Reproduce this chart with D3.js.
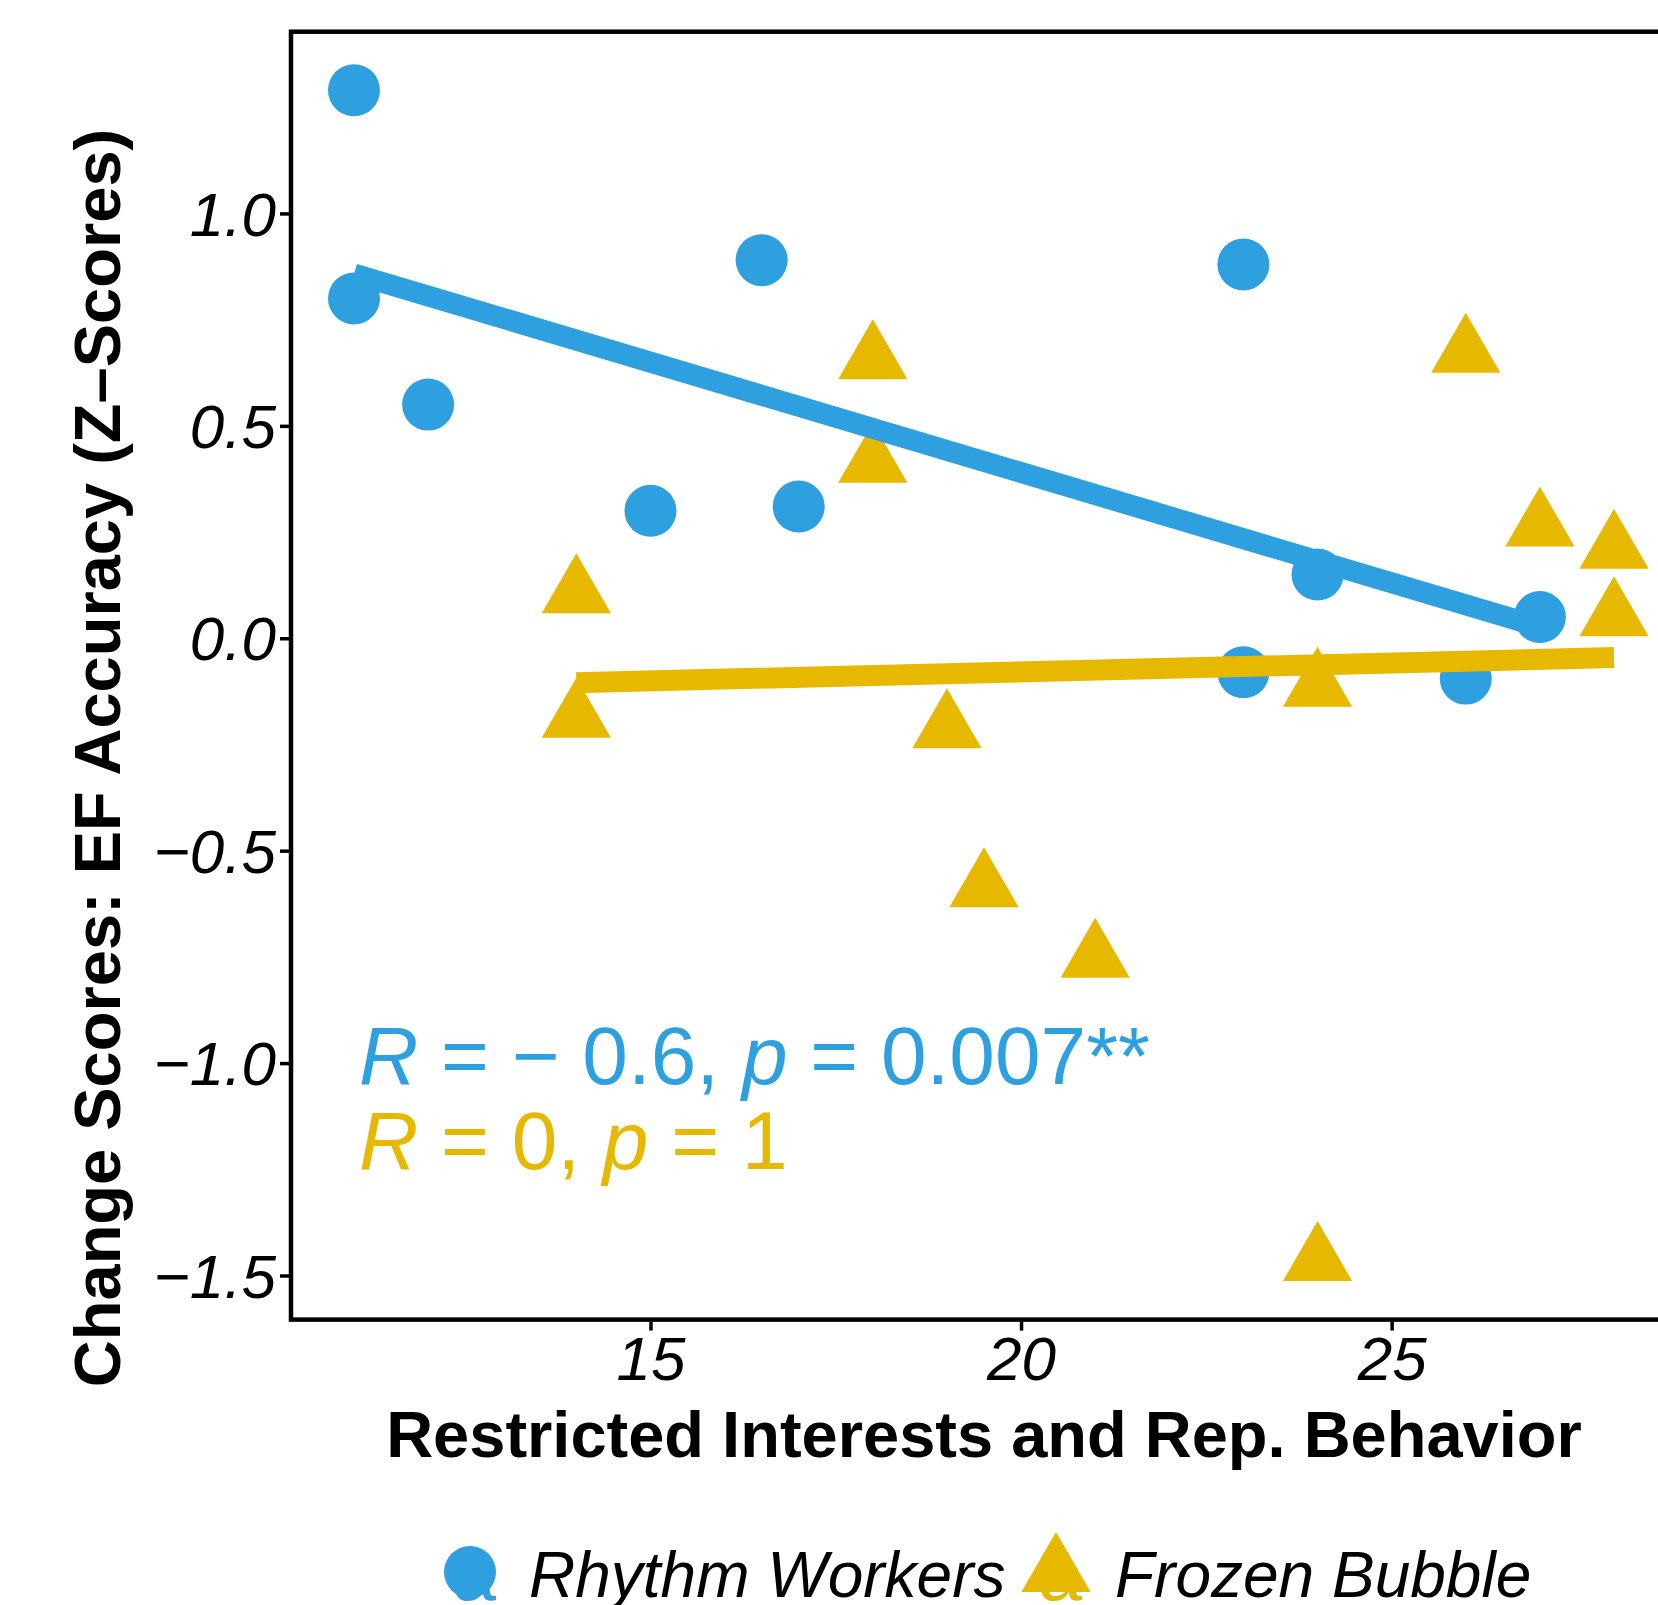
<!DOCTYPE html>
<meta charset="utf-8">
<style>
  body { margin: 0; background: #fff; overflow: hidden; }
  text { font-family: "Liberation Sans", Arial, Helvetica, sans-serif; }
</style>
<body>
<script src="https://cdn.jsdelivr.net/npm/d3@7"></script>
<script>
    var width = 1658,
        height = 1605;

    // groups and colours
    var groups = ["Rhythm Workers", "Frozen Bubble"],
        colors = ["#2E9FDF", "#E7B800"];

    // Rhythm Workers (circles)
    var rhythmX = [11, 11, 12, 15, 16.5, 17, 23, 24, 27, 23, 26],
        rhythmY = [1.29, 0.80, 0.55, 0.30, 0.89, 0.31, 0.88, 0.15, 0.05, -0.08, -0.095];

    // Frozen Bubble (triangles)
    var frozenX = [14, 14, 18, 18, 19, 19.5, 21, 24, 24, 26, 27, 28, 28],
        frozenY = [0.106, -0.187, 0.657, 0.413, -0.212, -0.586, -0.752, -0.114, -1.466, 0.672, 0.263, 0.211, 0.052];

    var xTicks = [15, 20, 25],
        yTicks = [-1.5, -1.0, -0.5, 0.0, 0.5, 1.0];

    // correlation labels, one per group
    var statR = ["\u2212 0.6", "0"],
        statP = ["0.007**", "1"];

    var xTitle = "Restricted Interests and Rep. Behavior",
        yTitle = "Change Scores: EF Accuracy (Z\u2013Scores)";

    // panel runs past the right edge, like the reference crop
    var margin = {top: 31.7, left: 291, right: -19, bottom: 285.4};
    var plotRight = width - margin.right,
        plotBottom = height - margin.bottom;

    var series = [
        {name: groups[0], color: colors[0], shape: d3.symbolCircle,
         pts: rhythmX.map((x, i) => ({x: x, y: rhythmY[i]}))},
        {name: groups[1], color: colors[1], shape: d3.symbolTriangle,
         pts: frozenX.map((x, i) => ({x: x, y: frozenY[i]}))}
    ];

    // ggplot-like 5% expansion
    function expand(ext) {
        var d = (ext[1] - ext[0]) * 0.05;
        return [ext[0] - d, ext[1] + d];
    }
    var allX = rhythmX.concat(frozenX),
        allY = rhythmY.concat(frozenY);

    var x = d3.scaleLinear().domain(expand(d3.extent(allX))).range([margin.left, plotRight]);
    var y = d3.scaleLinear().domain(expand(d3.extent(allY))).range([plotBottom, margin.top]);

    var svg = d3.select('body').append('svg')
        .attr('width', width)
        .attr('height', height);

    var circleSize = Math.PI * 26 * 26,
        triSize = 20 * 20 * Math.sqrt(3) * 3; // circumradius 40

    function symSize(shape) { return shape === d3.symbolCircle ? circleSize : triSize; }

    // points
    series.forEach(function (s) {
        svg.append('g')
            .selectAll('path')
            .data(s.pts)
            .enter().append('path')
            .attr('d', d3.symbol().type(s.shape).size(symSize(s.shape)))
            .attr('transform', d => `translate(${x(d.x)},${y(d.y)})`)
            .attr('fill', s.color);
    });

    // least squares fit per group
    function fit(pts) {
        var mx = d3.mean(pts, d => d.x), my = d3.mean(pts, d => d.y);
        var sxy = d3.sum(pts, d => (d.x - mx) * (d.y - my)),
            sxx = d3.sum(pts, d => (d.x - mx) * (d.x - mx));
        var b = sxy / sxx, a = my - b * mx;
        var ext = d3.extent(pts, d => d.x);
        return ext.map(v => ({x: v, y: a + b * v}));
    }

    var line = d3.line().x(d => x(d.x)).y(d => y(d.y));
    series.forEach(function (s) {
        svg.append('path')
            .datum(fit(s.pts))
            .attr('d', line)
            .attr('fill', 'none')
            .attr('stroke', s.color)
            .attr('stroke-width', 21);
    });

    // stat labels
    var statBase = [1084, 1168.5];
    series.forEach(function (s, i) {
        var t = svg.append('text')
            .attr('x', 359)
            .attr('y', statBase[i])
            .attr('fill', s.color)
            .attr('font-size', 82)
            .attr('xml:space', 'preserve');
        t.append('tspan').attr('font-style', 'italic').text('R');
        t.append('tspan').text(' = ' + statR[i] + ', ');
        t.append('tspan').attr('font-style', 'italic').text('p');
        t.append('tspan').text(' = ' + statP[i]);
    });

    // panel border
    svg.append('rect')
        .attr('x', margin.left)
        .attr('y', margin.top)
        .attr('width', plotRight - margin.left)
        .attr('height', plotBottom - margin.top)
        .attr('fill', 'none')
        .attr('stroke', '#000')
        .attr('stroke-width', 4.5);

    // axes
    var yAxis = svg.append('g')
        .attr('transform', `translate(${margin.left - 2},0)`)
        .call(d3.axisLeft(y).tickValues(yTicks).tickFormat(d3.format('.1f')).tickSize(9).tickPadding(4));
    var xAxis = svg.append('g')
        .attr('transform', `translate(0,${plotBottom + 2})`)
        .call(d3.axisBottom(x).tickValues(xTicks).tickFormat(d3.format('d')).tickSize(9).tickPadding(6));

    [yAxis, xAxis].forEach(function (g) {
        g.select('.domain').remove();
        g.selectAll('.tick line').attr('stroke', '#000').attr('stroke-width', 3.5);
        g.selectAll('.tick text')
            .attr('fill', '#000')
            .attr('font-size', 62)
            .attr('font-style', 'italic')
            .attr('font-family', '"Liberation Sans", Arial, Helvetica, sans-serif');
    });
    yAxis.selectAll('.tick text').attr('dy', '0.35em');
    xAxis.selectAll('.tick text').attr('dy', '0.7em');

    // axis titles
    svg.append('text')
        .attr('x', (margin.left + plotRight) / 2)
        .attr('y', 1457)
        .attr('text-anchor', 'middle')
        .attr('font-size', 65)
        .attr('font-weight', 'bold')
        .text(xTitle);

    svg.append('text')
        .attr('transform', 'translate(119.5,758) rotate(-90)')
        .attr('text-anchor', 'middle')
        .attr('font-size', 65)
        .attr('font-weight', 'bold')
        .text(yTitle);

    // legend (cut by the bottom edge, as in the reference)
    var legendKeys = [{cx: 470, tx: 529}, {cx: 1056, tx: 1115}];
    series.forEach(function (s, i) {
        var k = legendKeys[i];
        var g = svg.append('g');
        g.append('text')
            .attr('x', k.cx + 4)
            .attr('y', 1572)
            .attr('dy', '0.36em')
            .attr('text-anchor', 'middle')
            .attr('fill', s.color)
            .attr('font-size', 79)
            .text('a');
        g.append('path')
            .attr('d', d3.symbol().type(s.shape).size(symSize(s.shape)))
            .attr('transform', `translate(${k.cx},1572)`)
            .attr('fill', s.color);
        g.append('text')
            .attr('x', k.tx)
            .attr('y', 1597)
            .attr('font-size', 64)
            .attr('font-style', 'italic')
            .attr('fill', '#000')
            .text(s.name);
    });
</script>
</body>
</html>
